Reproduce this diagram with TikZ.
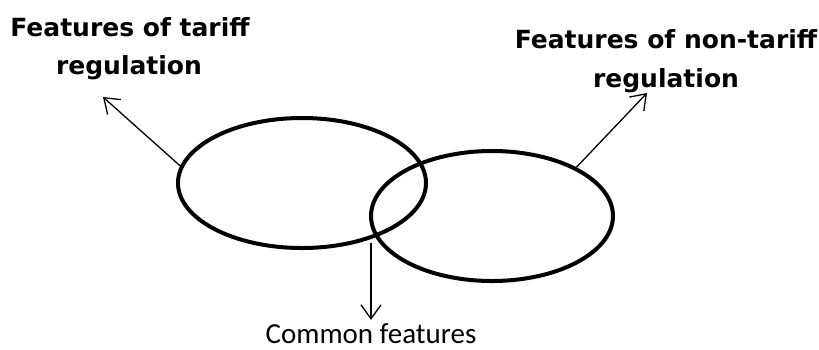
\documentclass[tikz,border=0pt]{standalone}
\usepackage{fontspec}
\setmainfont{Carlito}
\newfontfamily\headfont{DejaVu Sans}
\usetikzlibrary{shapes.geometric,arrows.meta}

\tikzset{
  setring/.style={ellipse, draw, line width=4pt, inner sep=0pt},
  pointer/.style={line width=1.3pt, -{Straight Barb[length=14pt,width=20pt,line width=1.3pt]}},
  heading/.style={font=\headfont\bfseries\fontsize{25}{38}\selectfont, inner sep=0pt},
  caption/.style={font=\fontsize{29}{34}\selectfont, inner sep=0pt}
}

\begin{document}
\begin{tikzpicture}[x=1pt,y=-1pt]
  \useasboundingbox (0,0) rectangle (819,349);

  % the two overlapping sets
  \node[setring, minimum width=248pt, minimum height=130pt] (tariff) at (302,183) {};
  \node[setring, minimum width=242pt, minimum height=130pt] (nontariff) at (492,216) {};

  % headings, one line per node
  \node[heading, anchor=base] (lhead) at (130,36) {Features of tariff};
  \node[heading, anchor=base] (lhead2) at (129,74) {regulation};
  \node[heading, anchor=base] (rhead) at (666,48) {Features of non-tariff};
  \node[heading, anchor=base] (rhead2) at (666,87) {regulation};
  \node[caption, anchor=base] (common) at (371,343) {Common features};

  % arrow end points
  \coordinate (lend) at (103,97);
  \coordinate (rend) at (647,93);
  \coordinate (cstart) at (371,243);

  % pointers
  \draw[pointer] (tariff.172) -- (lend);
  \draw[pointer] (nontariff.30) -- (rend);
  \draw[pointer, shorten >=3pt] (cstart) -- (common.north);
\end{tikzpicture}
\end{document}
